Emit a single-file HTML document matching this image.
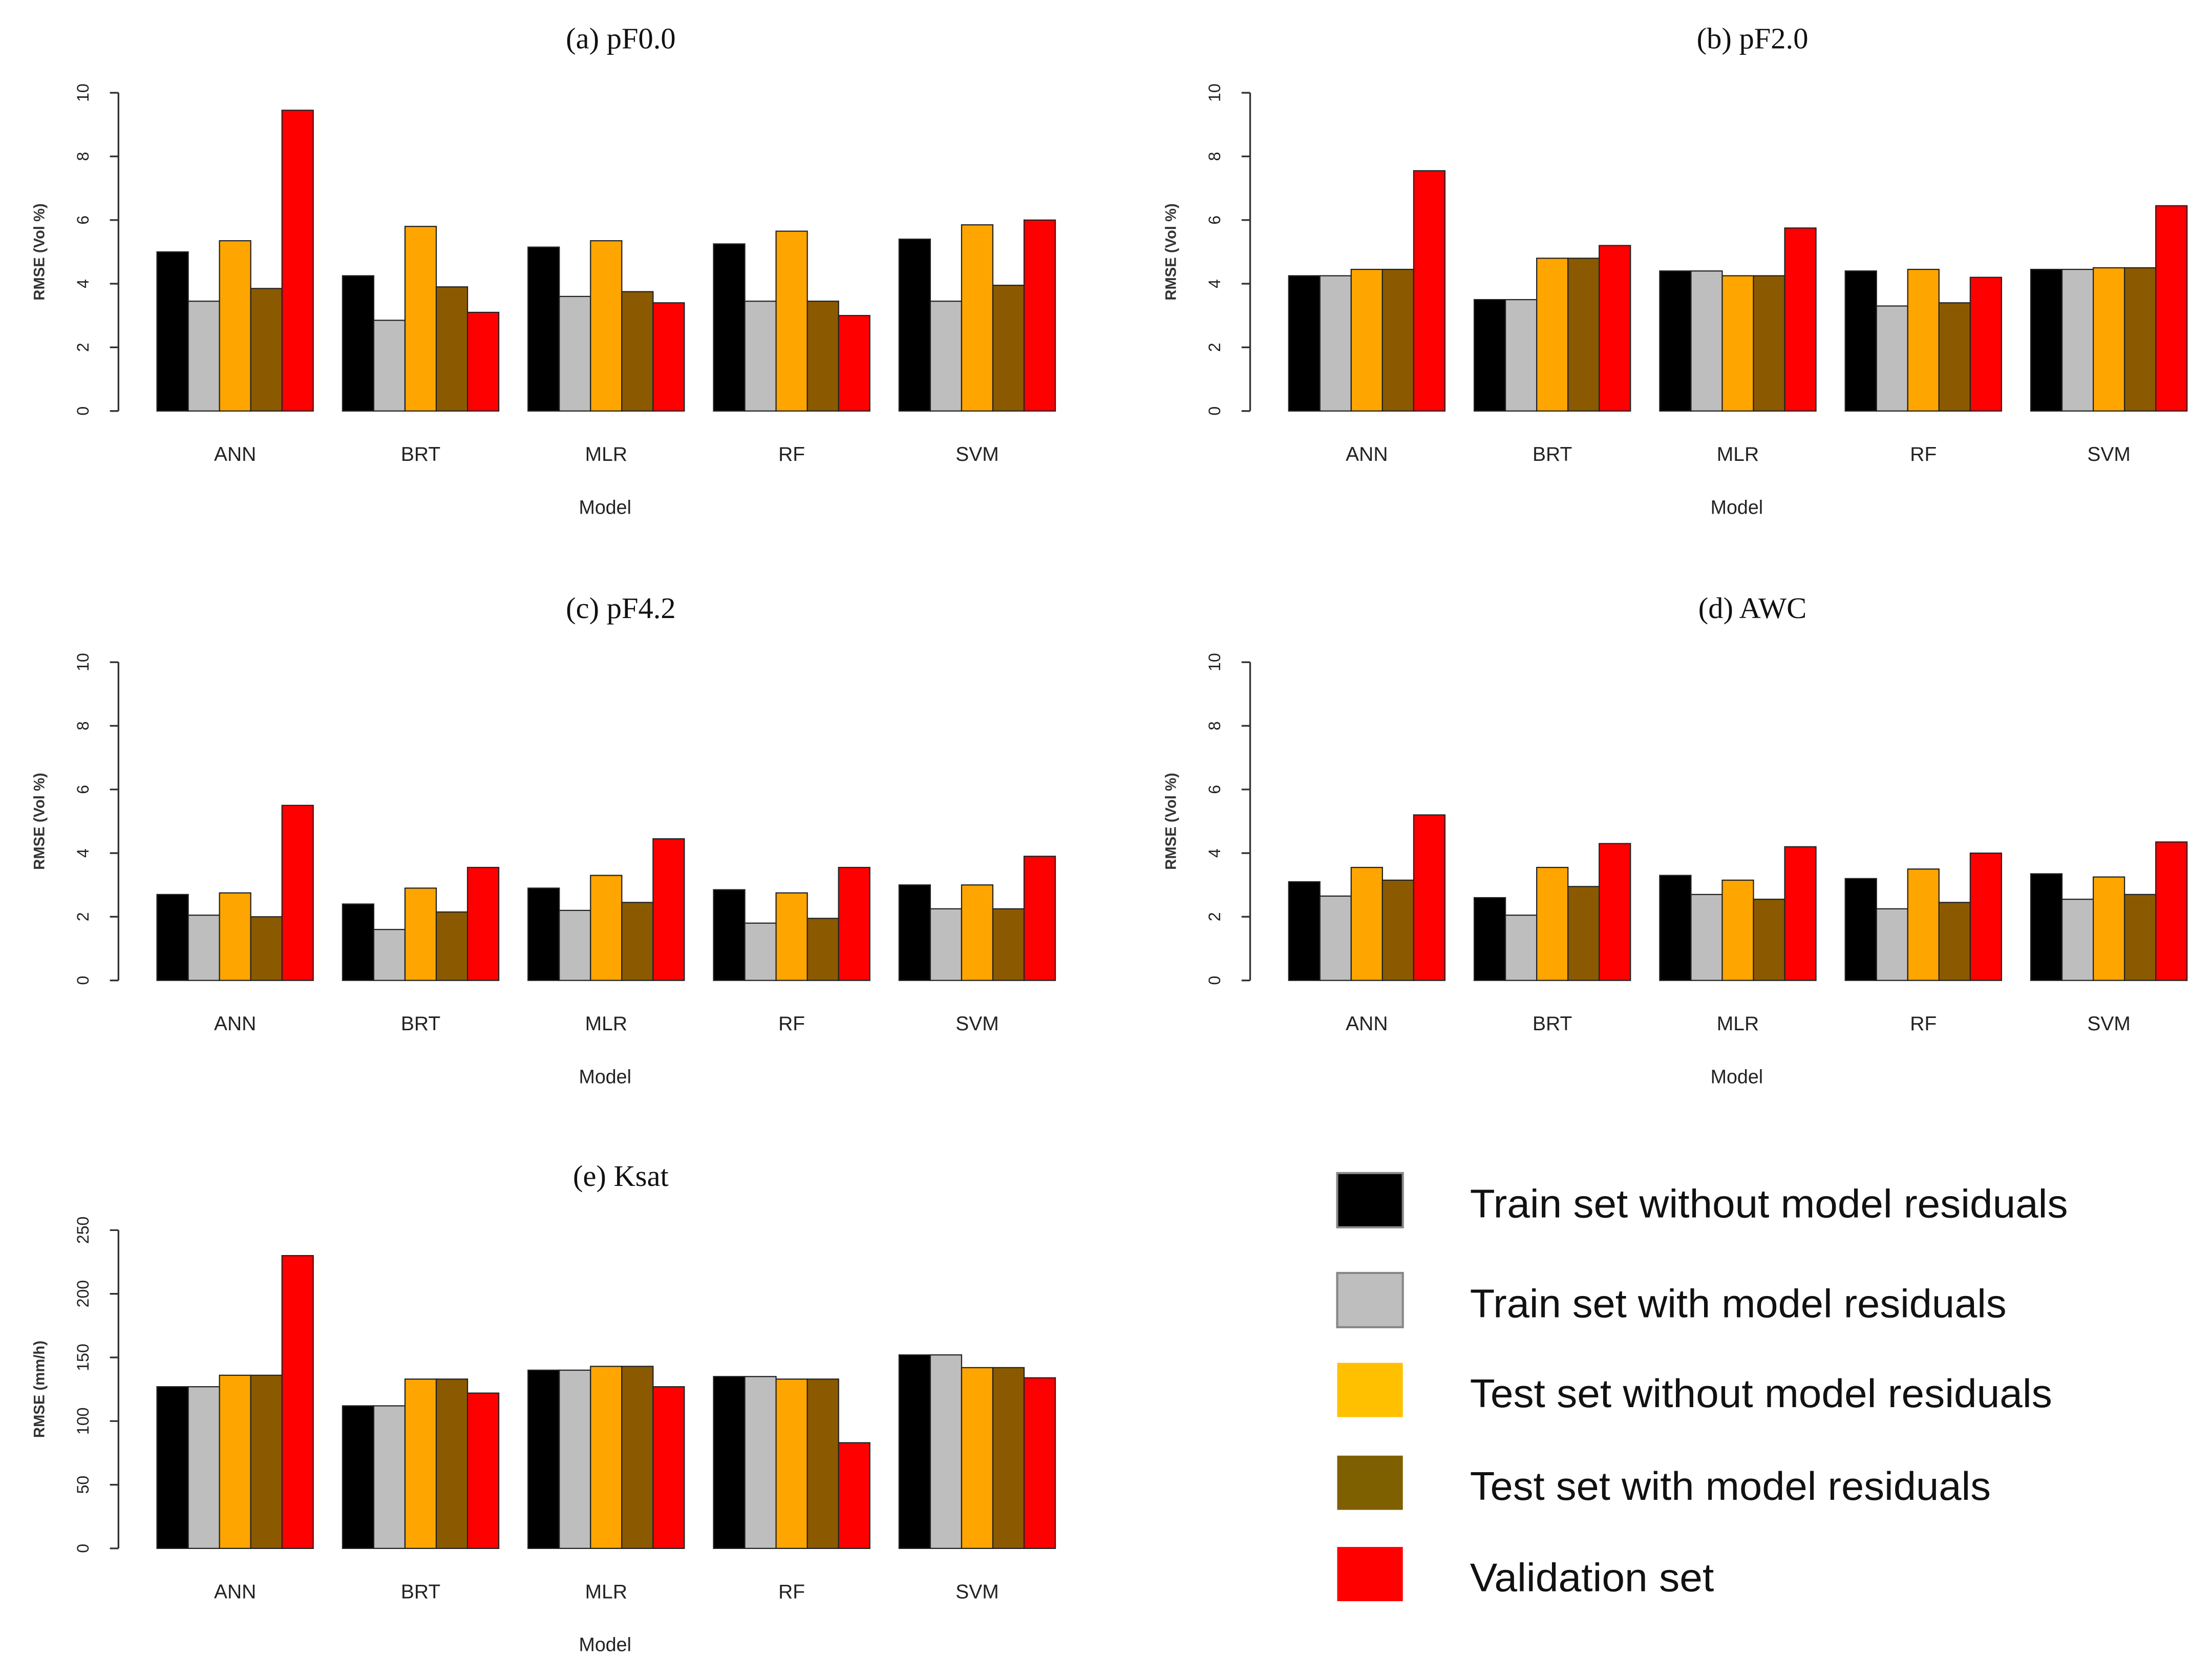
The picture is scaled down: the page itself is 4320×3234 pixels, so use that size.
<!DOCTYPE html>
<html><head><meta charset="utf-8"><style>
html,body{margin:0;padding:0;background:#fff;}
svg{display:block;}
</style></head><body>
<svg id="fig" xmlns="http://www.w3.org/2000/svg" width="4320" height="3234" viewBox="0 0 1550 1160.4" preserveAspectRatio="none">
<rect width="1550" height="1160.4" fill="#fff"/>
<g id="legend"></g>
</svg>
<script>
const models = ["ANN","BRT","MLR","RF","SVM"];
const seriesNames = ["Train set without model residuals","Train set with model residuals","Test set without model residuals","Test set with model residuals","Validation set"];
const pF00 = [[5.0,3.45,5.35,3.85,9.45],[4.25,2.85,5.8,3.9,3.1],[5.15,3.6,5.35,3.75,3.4],[5.25,3.45,5.65,3.45,3.0],[5.4,3.45,5.85,3.95,6.0]];
const pF20 = [[4.25,4.25,4.45,4.45,7.55],[3.5,3.5,4.8,4.8,5.2],[4.4,4.4,4.25,4.25,5.75],[4.4,3.3,4.45,3.4,4.2],[4.45,4.45,4.5,4.5,6.45]];
const pF42 = [[2.7,2.05,2.75,2.0,5.5],[2.4,1.6,2.9,2.15,3.55],[2.9,2.2,3.3,2.45,4.45],[2.85,1.8,2.75,1.95,3.55],[3.0,2.25,3.0,2.25,3.9]];
const awc = [[3.1,2.65,3.55,3.15,5.2],[2.6,2.05,3.55,2.95,4.3],[3.3,2.7,3.15,2.55,4.2],[3.2,2.25,3.5,2.45,4.0],[3.35,2.55,3.25,2.7,4.35]];
const ksat = [[127,127,136,136,230],[112,112,133,133,122],[140,140,143,143,127],[135,135,133,133,83],[152,152,142,142,134]];
const volTicks = [0,2,4,6,8,10];
const ksatTicks = [0,50,100,150,200,250];

const NS="http://www.w3.org/2000/svg";
const svg=document.getElementById('fig');
const barColors=["#000000","#bebebe","#ffa500","#8b5a00","#ff0000"];
const legColors=["#000000","#bebebe","#ffc000","#7f6000","#ff0000"];
function mk(tag,attrs,parent,text){const e=document.createElementNS(NS,tag);for(const k in attrs)e.setAttribute(k,attrs[k]);if(text!==undefined)e.textContent=text;(parent||svg).appendChild(e);return e;}

function panel(id,title,data,ticks,ymax,yTitle,ox,oy){
  const g=mk('g',{},svg);
  
  
  const y0=oy+223, y1=oy; // oy = y of max
  const yS=v=>y0-(v/ymax)*(y0-y1);
  const axX=ox;
  const t=mk('text',{x:ox+352,y:oy-31,'font-family':'"Liberation Serif",serif','font-size':21,'text-anchor':'middle',fill:'#111'},g,title);
  
  
  const ax=mk('line',{x1:axX,x2:axX,y1:yS(ticks[0]),y2:yS(ticks[ticks.length-1]),stroke:'#333','stroke-width':1.2},g);
  
  
  ticks.forEach(v=>{
    mk('line',{x1:axX-6,x2:axX,y1:yS(v),y2:yS(v),stroke:'#333','stroke-width':1.2},g);
    const tl=mk('text',{x:0,y:0,transform:`translate(${axX-21},${yS(v)}) rotate(-90)`,'font-family':'"Liberation Sans",sans-serif','font-size':11.5,'text-anchor':'middle',fill:'#222'},g,String(v));
    
    
  });
  const yt=mk('text',{x:0,y:0,transform:`translate(${axX-52},${(y0+y1)/2}) rotate(-90)`,'font-family':'"Liberation Sans",sans-serif','font-size':10.5,'font-weight':'bold','text-anchor':'middle',fill:'#333'},g,yTitle);
  
  
  const bw=21.9;
  data.forEach((grp,gi)=>{
    const gx=ox+27+gi*130;
    grp.forEach((v,si)=>{
      const r=mk('rect',{x:gx+si*bw,y:yS(v),width:bw,height:y0-yS(v),fill:barColors[si],stroke:'#222','stroke-width':0.8},g);
      
      
    });
    const cl=mk('text',{x:gx+bw*2.5,y:y0+35,'font-family':'"Liberation Sans Narrow","Liberation Sans",sans-serif','font-size':14,'text-anchor':'middle',fill:'#222'},g,models[gi]);
    
    
  });
  const xt=mk('text',{x:ox+341,y:y0+72,'font-family':'"Liberation Sans Narrow","Liberation Sans",sans-serif','font-size':13.5,'text-anchor':'middle',fill:'#222'},g,'Model');
  
  
}
panel('pf00','(a)  pF0.0',pF00,volTicks,10,'RMSE (Vol %)',83,65);
panel('pf20','(b)  pF2.0',pF20,volTicks,10,'RMSE (Vol %)',876,65);
panel('pf42','(c)  pF4.2',pF42,volTicks,10,'RMSE (Vol %)',83,464);
panel('awc','(d)  AWC',awc,volTicks,10,'RMSE (Vol %)',876,464);
panel('ksat','(e)  Ksat',ksat,ksatTicks,250,'RMSE (mm/h)',83,862);

const leg=document.getElementById('legend');
const legY=[822,892,955,1020,1084];
const legW=[419,376,408,365,171];
seriesNames.forEach((n,i)=>{
  const r=mk('rect',{x:937,y:legY[i],width:46,height:38,fill:legColors[i],stroke:i<2?'#888':'none','stroke-width':1.5},leg);
  
  
  const t=mk('text',{x:1030,y:legY[i]+31,'font-family':'"Liberation Sans Narrow","Liberation Sans",sans-serif','font-size':28,fill:'#111',textLength:legW[i],lengthAdjust:'spacingAndGlyphs'},leg,n);
  
  
});
</script>
</body></html>
